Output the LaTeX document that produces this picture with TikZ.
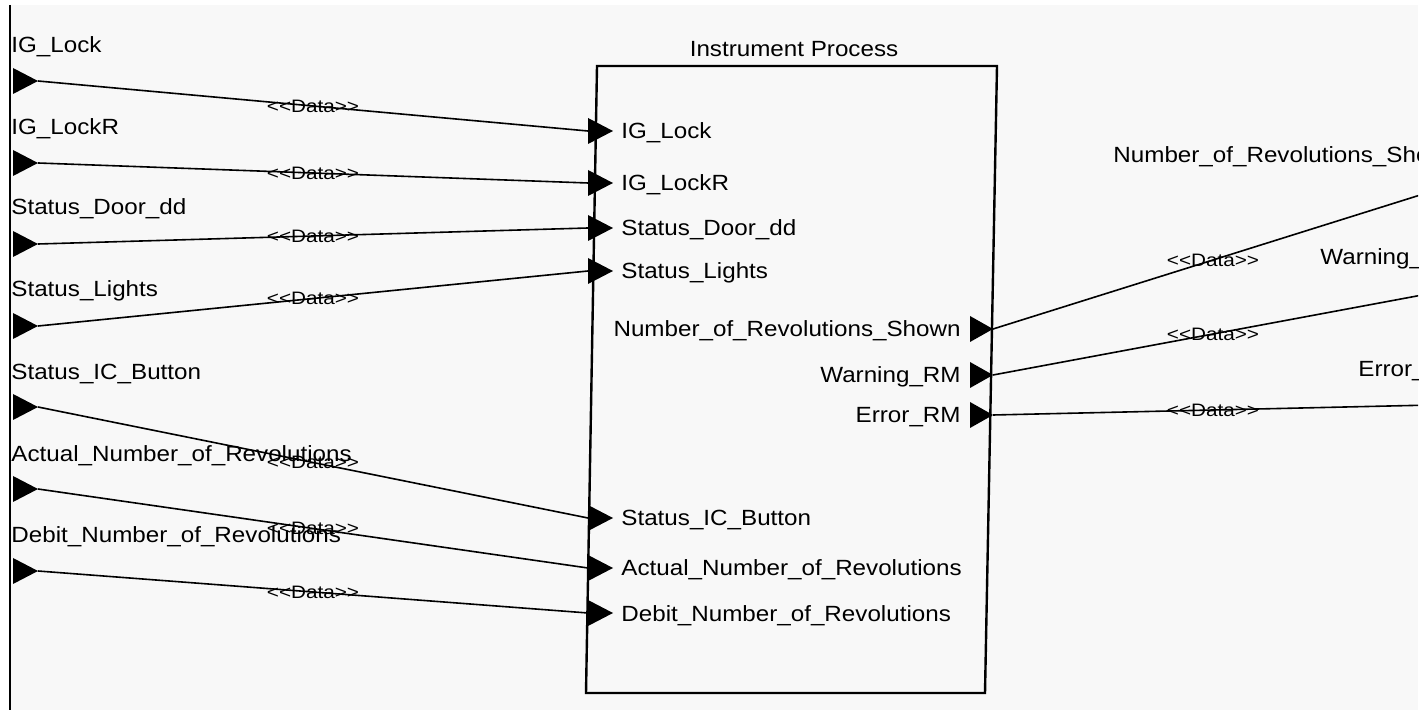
\documentclass[tikz,border=0pt]{standalone}
\usepackage{fontspec}
\newfontfamily\portfont[FakeStretch=1.1]{Liberation Sans}
\newfontfamily\datafont[FakeStretch=1.15]{Liberation Sans}
\definecolor{bg}{HTML}{F8F8F8}
\newcommand{\datatext}{<\kern0pt<Data>\kern0pt>}
\begin{document}
\begin{tikzpicture}[x=0.5pt,y=-0.5pt,
  lbl/.style={font=\portfont\fontsize{11pt}{13pt}\selectfont, inner sep=0pt, text=black},
  datalbl/.style={font=\datafont\fontsize{9pt}{11pt}\selectfont, inner sep=0pt, text=black},
  flow/.style={line width=0.8pt, black},
  porttri/.style={fill=black},
  blockline/.style={line width=1.2pt, black}]
\useasboundingbox (0,0) rectangle (1424,710);
\fill[bg] (10,5) rectangle (1418,710);
\draw[line width=1pt] (10,5) -- (10,710);
\begin{scope}
\clip (10,5) rectangle (1418,710);
% block
\coordinate (bTL) at (597,66);
\coordinate (bTR) at (997,66);
\coordinate (bBR) at (985,693);
\coordinate (bBL) at (586,693);
\draw[blockline, fill=bg] (bTL) -- (bTR) -- (bBR) -- (bBL) -- cycle;
\node[lbl, anchor=base] (title) at (794,57) {Instrument Process};
% inputs
\foreach \i/\ly/\lb/\by/\txt in {
  1/81/53/131/IG\_Lock,
  2/163/135/183/IG\_LockR,
  3/244/215/228/Status\_Door\_dd,
  4/326/297/271/Status\_Lights,
  5/407/380/518/Status\_IC\_Button,
  6/489/462/568/Actual\_Number\_of\_Revolutions,
  7/571/543/613/Debit\_Number\_of\_Revolutions}{
  \fill[porttri] (13,\ly-13) -- (38,\ly) -- (13,\ly+13) -- cycle;
  \coordinate (ext\i) at (38,\ly);
  \node[lbl, anchor=base west] (extlbl\i) at (11,\lb) {\txt};
  \fill[porttri] (588,\by-13) -- (613,\by) -- (588,\by+13) -- cycle;
  \coordinate (in\i) at (588,\by);
  \node[lbl, anchor=base west] (inlbl\i) at (621,\by+8) {\txt};
  \draw[flow] (ext\i) -- node[datalbl] (d\i) {\datatext} (in\i);
}
% outputs
\foreach \i/\oy/\ey/\eb/\ex/\txt in {
  1/329/191/163/1113/Number\_of\_Revolutions\_Shown,
  2/375/293/265/1320/Warning\_RM,
  3/415/405/377/1358/Error\_RM}{
  \fill[porttri] (970,\oy-13) -- (993,\oy) -- (970,\oy+13) -- cycle;
  \coordinate (out\i) at (993,\oy);
  \node[lbl, anchor=base east] (outlbl\i) at (961,\oy+8) {\txt};
  \coordinate (rext\i) at (1433,\ey);
  \node[lbl, anchor=base west] (rextlbl\i) at (\ex,\eb) {\txt};
  \draw[flow] (out\i) -- node[datalbl] (od\i) {\datatext} (rext\i);
}
\end{scope}
\end{tikzpicture}
\end{document}
